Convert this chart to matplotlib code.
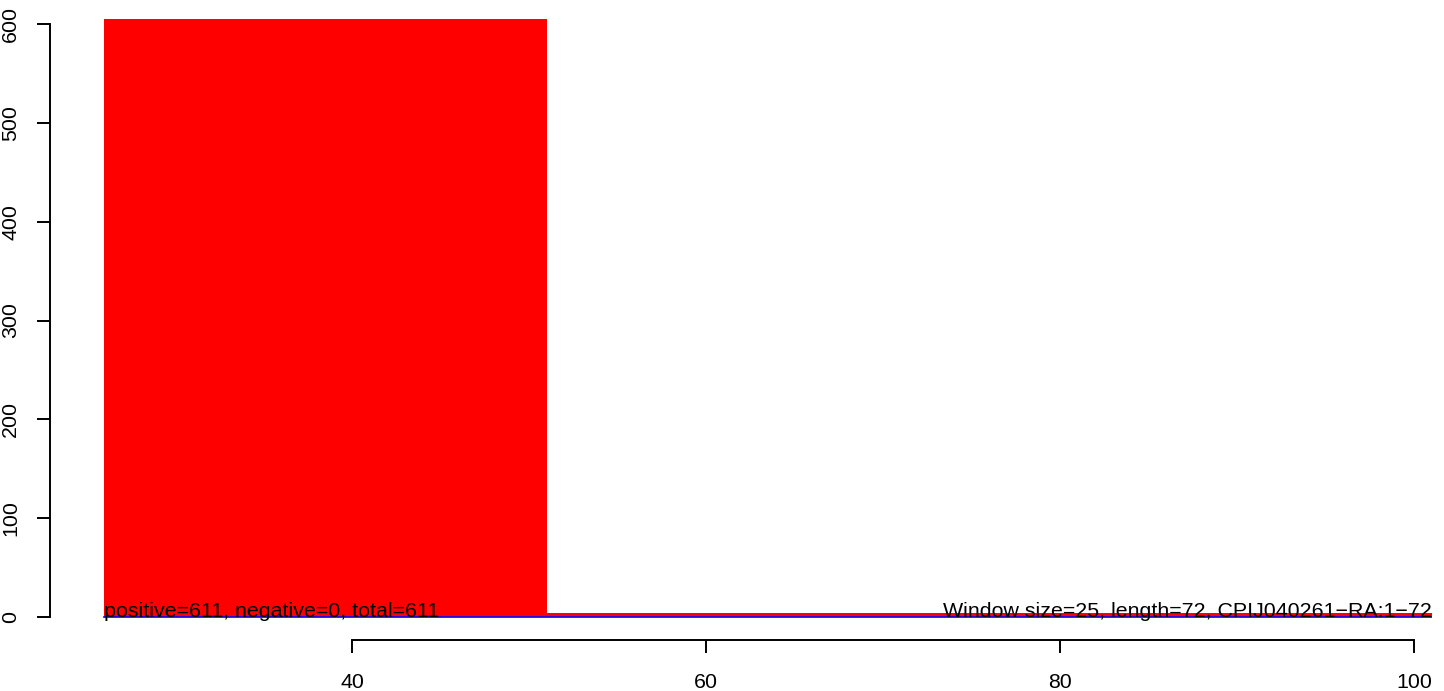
import matplotlib
matplotlib.use("Agg")
import matplotlib.pyplot as plt
import numpy as np

plt.rcParams['font.family'] = ['Liberation Sans', 'DejaVu Sans']

# window bins (left edges / right edges) and counts
bin_left = [26, 51]
bin_right = [51, 101]
counts = [611, 4]
xticks = [40, 60, 80, 100]
yticks = [0, 100, 200, 300, 400, 500, 600]
left_text = "positive=611, negative=0, total=611"
right_text = "Window size=25, length=72, CPIJ040261\u2212RA:1\u221272"

W, H = 1444, 691
fig = plt.figure(figsize=(W / 100, H / 100), dpi=100)
# plot region in pixels: x 50..1432, y 19..640
ax = fig.add_axes([50 / W, (H - 640) / H, (1432 - 50) / W, (640 - 19) / H])

px_per_unit = (1414 - 352) / 60.0
x0 = 40 - (352 - 50) / px_per_unit
x1 = 40 + (1432 - 352) / px_per_unit
ax.set_xlim(x0, x1)
ypx = (617 - 24) / 600.0
ax.set_ylim(-(640 - 617) / ypx, (617 - 19) / ypx)

widths = np.array(bin_right) - np.array(bin_left)
ax.bar(bin_left, counts, width=widths, align='edge', color='red', linewidth=0)
ax.plot([bin_left[0], bin_right[-1]], [0, 0], color='blue', lw=1.2)

fs = 15.4
ax.text(bin_left[0], 0, left_text, ha='left', va='baseline', fontsize=fs)
ax.text(bin_right[-1], 0, right_text, ha='right', va='baseline', fontsize=fs)

for s in ['top', 'right']:
    ax.spines[s].set_visible(False)
ax.spines['left'].set_bounds(yticks[0], yticks[-1])
ax.spines['bottom'].set_bounds(xticks[0], xticks[-1])
ax.spines['left'].set_linewidth(1.4)
ax.spines['bottom'].set_linewidth(1.4)
ax.set_xticks(xticks)
ax.set_yticks(yticks)
ax.set_yticklabels([str(v) for v in yticks], rotation=90, va='center')
ax.tick_params(axis='both', length=9.5, width=1.4, labelsize=fs)
ax.tick_params(axis='x', pad=14)
ax.tick_params(axis='y', pad=12)

fig.savefig("out.png", dpi=100)
